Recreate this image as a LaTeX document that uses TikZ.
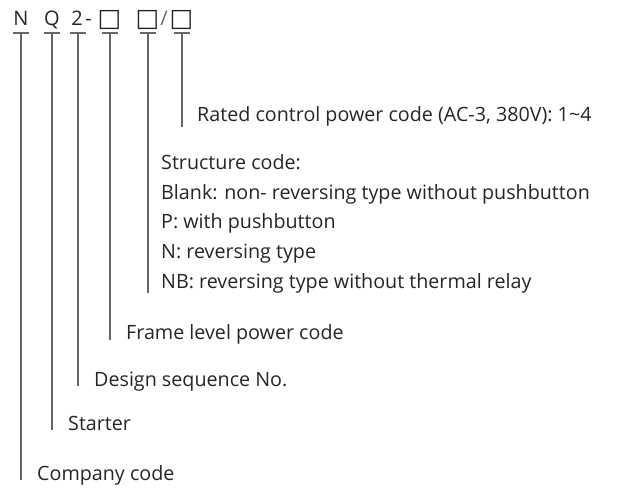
\documentclass[tikz,border=0pt]{standalone}
\usepackage{fontspec}
\setmainfont{Open Sans}
\newfontfamily\symfont{DejaVu Sans}
\definecolor{txtc}{HTML}{262626}
\definecolor{linec}{HTML}{666666}
\begin{document}
\begin{tikzpicture}[x=1bp,y=-1bp,
  lbl/.style={anchor=base west,inner sep=0pt,text=txtc,font=\fontsize{19.7bp}{22bp}\selectfont},
  head/.style={anchor=base,inner sep=0pt,text=txtc,font=\fontsize{20bp}{22bp}\selectfont},
  boxg/.style={anchor=base,inner sep=0pt,text=txtc,font=\symfont\fontsize{25bp}{27bp}\selectfont},
  conn/.style={draw=linec,line width=1.1bp},
  bar/.style={draw=linec,line width=1.1bp}]
\useasboundingbox (0,0) rectangle (638,488);
% header characters
\node[head] (hN) at (21,26) {N};
\node[head] (hQ) at (52,26) {Q};
\node[head] (h2) at (77,26) {2};
\node[head] (hd) at (88.5,26) {-};
\node[boxg] (hb1) at (109.5,26.5) {□};
\node[boxg] (hb2) at (147.5,26.5) {□};
\node[head,text=linec] (hs) at (164,26) {/};
\node[boxg] (hb3) at (181.5,26.5) {□};
% underline bars
\foreach \n/\x in {N/21,Q/52,2/78,b1/110,b2/148,b3/182}{
  \coordinate (u\n) at (\x,33);
  \draw[bar] ([xshift=-8bp]u\n) -- ([xshift=8bp]u\n);
}
% labels
\node[lbl] (lb3) at (197,122) {Rated control power code (AC-3, 380V): 1\char"007E 4};
\node[lbl] (lb2a) at (161,170) {Structure code:};
\node[lbl] (lb2b) at (161,199.5) {Blank: non- reversing type without pushbutton};
\node[lbl] (lb2c) at (161,229) {P: with pushbutton};
\node[lbl] (lb2d) at (161,258.5) {N: reversing type};
\node[lbl] (lb2e) at (161,288) {NB: reversing type without thermal relay};
\node[lbl] (lb1) at (126,339) {Frame level power code};
\node[lbl] (l2) at (94,386) {Design sequence No.};
\node[lbl] (lQ) at (68,430) {Starter};
\node[lbl] (lN) at (37,480) {Company code};
% line ends
\coordinate (eb3) at (182,127);
\coordinate (eb2) at (148,293);
\coordinate (eb1) at (110,340);
\coordinate (e2) at (78,386);
\coordinate (eQ) at (52,430);
\coordinate (eN) at (21,480);
\foreach \n in {N,Q,2,b1,b2,b3}{
  \draw[conn] (u\n) -- (e\n);
}
\end{tikzpicture}
\end{document}
